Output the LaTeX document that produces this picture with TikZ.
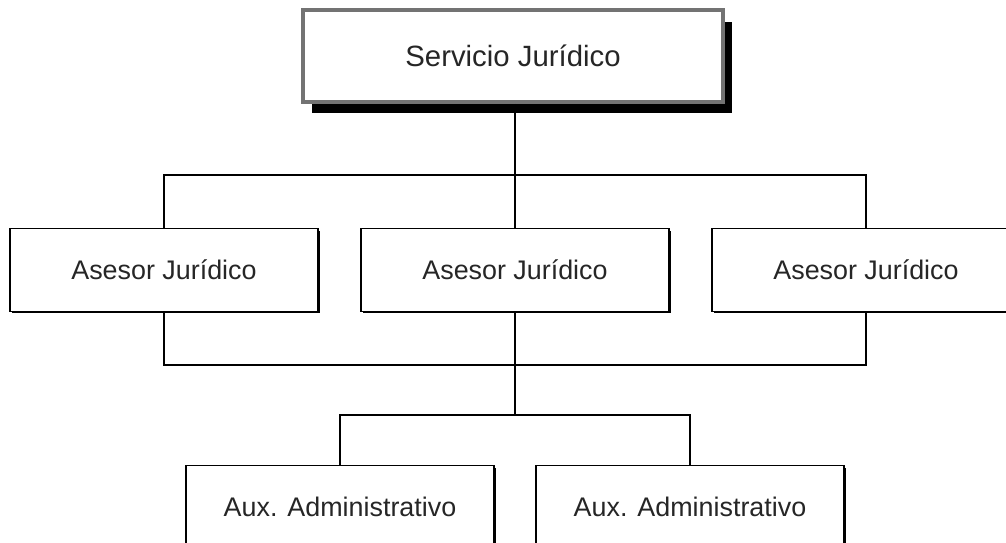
\documentclass[tikz,border=0pt]{standalone}
\usepackage{fontspec}
\setmainfont{Liberation Sans}
\usetikzlibrary{shadows}

\tikzset{
  headbox/.style={rectangle, draw=black!55, line width=2.2pt, fill=white,
    minimum width=8.4cm, minimum height=1.84cm, text=black!85,
    font=\fontsize{16.7pt}{20pt}\selectfont,
    drop shadow={shadow xshift=0.18cm, shadow yshift=-0.23cm, fill=black, opacity=1}},
  unitbox/.style={rectangle, draw, line width=0.9pt, fill=white,
    minimum width=6.16cm, minimum height=1.66cm, text=black!85,
    font=\fontsize{15.3pt}{18pt}\selectfont,
    drop shadow={shadow xshift=0.04cm, shadow yshift=-0.04cm, fill=black, opacity=1}},
  link/.style={line width=0.9pt}
}

\begin{document}
\begin{tikzpicture}[x=0.02cm, y=-0.02cm]
  \clip (0, 0) rectangle (1006, 543);
  % Nodes
  \node (SJ) [headbox] at (513, 56) {Servicio Jurídico};
  \node (AJ-L) [unitbox] at (164, 270) {Asesor Jurídico};
  \node (AJ-M) [unitbox] at (515, 270) {Asesor Jurídico};
  \node (AJ-R) [unitbox] at (866, 270) {Asesor Jurídico};
  \node (AUX-L) [unitbox] at (340, 507) {Aux. Administrativo};
  \node (AUX-R) [unitbox] at (690, 507) {Aux. Administrativo};
  % Bars
  \coordinate (top-bar) at (515, 175);
  \coordinate (low-bar) at (515, 365);
  \coordinate (aux-bar) at (515, 415);
  % Connectors
  \draw[link] (SJ.south -| top-bar) -- (AJ-M.north);
  \draw[link] (AJ-L.north) |- (top-bar) -| (AJ-R.north);
  \draw[link] (AJ-L.south) |- (low-bar) -| (AJ-R.south);
  \draw[link] (AJ-M.south) -- (aux-bar);
  \draw[link] (AUX-L.north) |- (aux-bar) -| (AUX-R.north);
\end{tikzpicture}
\end{document}
